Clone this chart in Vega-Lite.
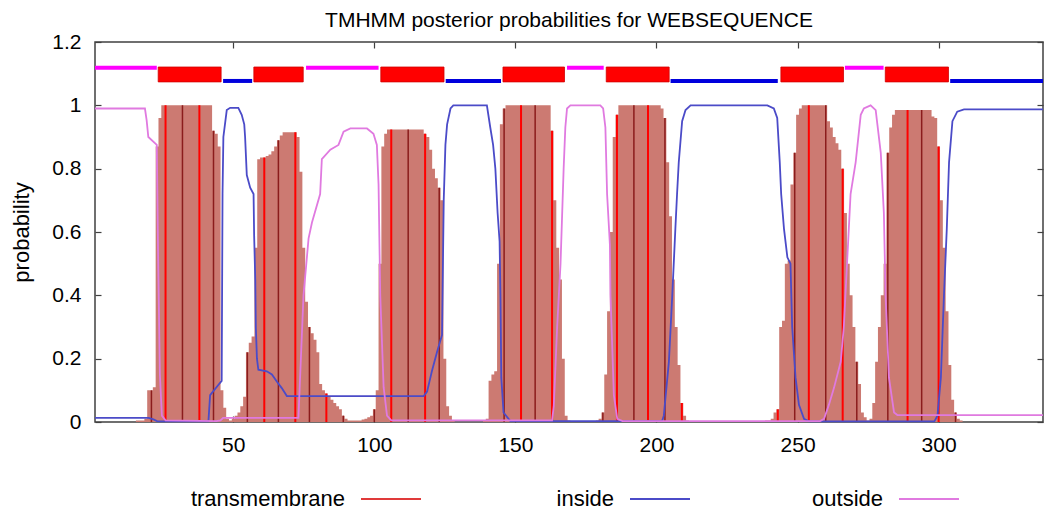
{
"$schema": "https://vega.github.io/schema/vega-lite/v6.json",
"width": 948, "height": 380,
"autosize": {"type": "none"},
"padding": {"left": 95, "top": 42, "right": 7, "bottom": 86},
"background": "white",
"title": {"text": "TMHMM posterior probabilities for WEBSEQUENCE", "fontSize": 21, "font": "Liberation Sans", "fontWeight": "normal", "color": "#000", "offset": 0, "frame": "group", "anchor": "middle"},
"config": {
  "view": {"stroke": "#404040", "strokeWidth": 1.5},
  "axis": {"grid": false, "domain": false, "labelFont": "Liberation Sans", "labelFontSize": 21, "labelColor": "#000", "tickColor": "#404040", "tickSize": -6, "tickWidth": 1.2, "titleFont": "Liberation Sans", "titleFontWeight": "normal", "titleColor": "#000", "titleFontSize": 22}
},
"datasets": {
"tm": [
{"pos":1,"p":0},{"pos":15,"p":0},{"pos":16,"p":0.005},{"pos":17,"p":0.005},{"pos":18,"p":0.005},{"pos":19,"p":0.01},{"pos":20,"p":0.10},{"pos":21,"p":0.10},{"pos":22,"p":0.11},{"pos":23,"p":0.87},{"pos":24,"p":0.96},
{"pos":25,"p":1},{"pos":26,"p":1},{"pos":27,"p":1},{"pos":28,"p":1},{"pos":29,"p":1},{"pos":30,"p":1},{"pos":31,"p":1},{"pos":32,"p":1},{"pos":33,"p":1},{"pos":34,"p":1},{"pos":35,"p":1},{"pos":36,"p":1},{"pos":37,"p":1},{"pos":38,"p":1},{"pos":39,"p":1},{"pos":40,"p":1},{"pos":41,"p":1},{"pos":42,"p":1},
{"pos":43,"p":0.92},{"pos":44,"p":0.91},{"pos":45,"p":0.87},{"pos":46,"p":0.10},{"pos":47,"p":0.045},{"pos":48,"p":0.01},{"pos":49,"p":0.005},{"pos":50,"p":0.01},{"pos":51,"p":0.02},{"pos":52,"p":0.03},{"pos":53,"p":0.05},{"pos":54,"p":0.08},{"pos":55,"p":0.22},{"pos":56,"p":0.25},{"pos":57,"p":0.27},{"pos":58,"p":0.55},{"pos":59,"p":0.83},{"pos":60,"p":0.835},{"pos":61,"p":0.835},{"pos":62,"p":0.84},{"pos":63,"p":0.845},{"pos":64,"p":0.855},{"pos":65,"p":0.87},{"pos":66,"p":0.89},{"pos":67,"p":0.905},{"pos":68,"p":0.915},{"pos":69,"p":0.915},{"pos":70,"p":0.915},{"pos":71,"p":0.915},{"pos":72,"p":0.915},{"pos":73,"p":0.90},{"pos":74,"p":0.79},{"pos":75,"p":0.55},{"pos":76,"p":0.38},{"pos":77,"p":0.30},{"pos":78,"p":0.28},{"pos":79,"p":0.26},{"pos":80,"p":0.22},{"pos":81,"p":0.12},{"pos":82,"p":0.10},{"pos":83,"p":0.09},{"pos":84,"p":0.08},{"pos":85,"p":0.07},{"pos":86,"p":0.06},{"pos":87,"p":0.05},{"pos":88,"p":0.04},{"pos":89,"p":0.02},{"pos":90,"p":0.01},{"pos":91,"p":0.005},{"pos":92,"p":0.005},{"pos":93,"p":0.005},{"pos":94,"p":0.005},{"pos":95,"p":0.005},{"pos":96,"p":0.008},{"pos":97,"p":0.01},{"pos":98,"p":0.015},{"pos":99,"p":0.02},{"pos":100,"p":0.04},{"pos":101,"p":0.10},{"pos":102,"p":0.50},{"pos":103,"p":0.87},{"pos":104,"p":0.91},
{"pos":105,"p":0.924},{"pos":106,"p":0.924},{"pos":107,"p":0.924},{"pos":108,"p":0.924},{"pos":109,"p":0.924},{"pos":110,"p":0.924},{"pos":111,"p":0.924},{"pos":112,"p":0.924},{"pos":113,"p":0.924},{"pos":114,"p":0.924},{"pos":115,"p":0.924},{"pos":116,"p":0.924},{"pos":117,"p":0.924},
{"pos":118,"p":0.91},{"pos":119,"p":0.90},{"pos":120,"p":0.86},{"pos":121,"p":0.80},{"pos":122,"p":0.77},{"pos":123,"p":0.74},{"pos":124,"p":0.70},{"pos":125,"p":0.20},{"pos":126,"p":0.05},{"pos":127,"p":0.02},{"pos":128,"p":0.005},{"pos":129,"p":0},{"pos":138,"p":0},{"pos":139,"p":0.005},{"pos":140,"p":0.01},{"pos":141,"p":0.13},{"pos":142,"p":0.15},{"pos":143,"p":0.16},{"pos":144,"p":0.50},{"pos":145,"p":0.94},{"pos":146,"p":0.99},
{"pos":147,"p":1},{"pos":148,"p":1},{"pos":149,"p":1},{"pos":150,"p":1},{"pos":151,"p":1},{"pos":152,"p":1},{"pos":153,"p":1},{"pos":154,"p":1},{"pos":155,"p":1},{"pos":156,"p":1},{"pos":157,"p":1},{"pos":158,"p":1},{"pos":159,"p":1},{"pos":160,"p":1},{"pos":161,"p":1},{"pos":162,"p":1},
{"pos":163,"p":0.92},{"pos":164,"p":0.70},{"pos":165,"p":0.55},{"pos":166,"p":0.45},{"pos":167,"p":0.20},{"pos":168,"p":0.02},{"pos":169,"p":0.005},{"pos":170,"p":0},{"pos":178,"p":0},{"pos":179,"p":0.005},{"pos":180,"p":0.01},{"pos":181,"p":0.03},{"pos":182,"p":0.15},{"pos":183,"p":0.35},{"pos":184,"p":0.60},{"pos":185,"p":0.90},{"pos":186,"p":0.97},
{"pos":187,"p":1},{"pos":188,"p":1},{"pos":189,"p":1},{"pos":190,"p":1},{"pos":191,"p":1},{"pos":192,"p":1},{"pos":193,"p":1},{"pos":194,"p":1},{"pos":195,"p":1},{"pos":196,"p":1},{"pos":197,"p":1},{"pos":198,"p":1},{"pos":199,"p":1},{"pos":200,"p":1},{"pos":201,"p":1},
{"pos":202,"p":0.99},{"pos":203,"p":0.96},{"pos":204,"p":0.82},{"pos":205,"p":0.65},{"pos":206,"p":0.45},{"pos":207,"p":0.30},{"pos":208,"p":0.18},{"pos":209,"p":0.06},{"pos":210,"p":0.02},{"pos":211,"p":0.005},{"pos":212,"p":0},{"pos":238,"p":0},{"pos":239,"p":0.005},{"pos":240,"p":0.005},{"pos":241,"p":0.01},{"pos":242,"p":0.03},{"pos":243,"p":0.04},{"pos":244,"p":0.30},{"pos":245,"p":0.32},{"pos":246,"p":0.50},{"pos":247,"p":0.51},{"pos":248,"p":0.75},{"pos":249,"p":0.85},{"pos":250,"p":0.97},{"pos":251,"p":0.99},
{"pos":252,"p":1},{"pos":253,"p":1},{"pos":254,"p":1},{"pos":255,"p":1},{"pos":256,"p":1},{"pos":257,"p":1},{"pos":258,"p":1},{"pos":259,"p":1},{"pos":260,"p":1},
{"pos":261,"p":0.95},{"pos":262,"p":0.93},{"pos":263,"p":0.90},{"pos":264,"p":0.88},{"pos":265,"p":0.86},{"pos":266,"p":0.80},{"pos":267,"p":0.66},{"pos":268,"p":0.50},{"pos":269,"p":0.40},{"pos":270,"p":0.30},{"pos":271,"p":0.19},{"pos":272,"p":0.12},{"pos":273,"p":0.03},{"pos":274,"p":0.015},{"pos":275,"p":0.005},{"pos":276,"p":0.01},{"pos":277,"p":0.06},{"pos":278,"p":0.19},{"pos":279,"p":0.30},{"pos":280,"p":0.40},{"pos":281,"p":0.50},{"pos":282,"p":0.85},{"pos":283,"p":0.93},{"pos":284,"p":0.97},
{"pos":285,"p":0.985},{"pos":286,"p":0.985},{"pos":287,"p":0.985},{"pos":288,"p":0.985},{"pos":289,"p":0.985},{"pos":290,"p":0.985},{"pos":291,"p":0.985},{"pos":292,"p":0.985},{"pos":293,"p":0.985},{"pos":294,"p":0.985},{"pos":295,"p":0.985},{"pos":296,"p":0.985},{"pos":297,"p":0.985},
{"pos":298,"p":0.965},{"pos":299,"p":0.96},{"pos":300,"p":0.87},{"pos":301,"p":0.70},{"pos":302,"p":0.55},{"pos":303,"p":0.35},{"pos":304,"p":0.18},{"pos":305,"p":0.07},{"pos":306,"p":0.03},{"pos":307,"p":0.01},{"pos":308,"p":0.005},{"pos":309,"p":0},{"pos":337,"p":0}
],
"curves": [
{"pos":1,"series":"inside","p":0.013},{"pos":20,"series":"inside","p":0.013},{"pos":21.7,"series":"inside","p":0.008},{"pos":23,"series":"inside","p":0.003},{"pos":24,"series":"inside","p":0.002},{"pos":41.2,"series":"inside","p":0.002},{"pos":41.8,"series":"inside","p":0.085},{"pos":44.7,"series":"inside","p":0.117},{"pos":45.9,"series":"inside","p":0.13},{"pos":46.2,"series":"inside","p":0.72},{"pos":46.5,"series":"inside","p":0.90},{"pos":47.7,"series":"inside","p":0.985},{"pos":48.9,"series":"inside","p":0.992},{"pos":51.8,"series":"inside","p":0.992},{"pos":53,"series":"inside","p":0.97},{"pos":53.9,"series":"inside","p":0.94},{"pos":54.2,"series":"inside","p":0.90},{"pos":54.8,"series":"inside","p":0.78},{"pos":56,"series":"inside","p":0.74},{"pos":57.2,"series":"inside","p":0.72},{"pos":57.4,"series":"inside","p":0.59},{"pos":57.8,"series":"inside","p":0.45},{"pos":58,"series":"inside","p":0.30},{"pos":58.4,"series":"inside","p":0.20},{"pos":58.9,"series":"inside","p":0.165},{"pos":61.9,"series":"inside","p":0.16},{"pos":63.7,"series":"inside","p":0.15},{"pos":65.5,"series":"inside","p":0.127},{"pos":67.2,"series":"inside","p":0.107},{"pos":69,"series":"inside","p":0.082},{"pos":117.5,"series":"inside","p":0.082},{"pos":118.7,"series":"inside","p":0.096},{"pos":120.4,"series":"inside","p":0.16},{"pos":122.2,"series":"inside","p":0.22},{"pos":124,"series":"inside","p":0.275},{"pos":124.6,"series":"inside","p":0.70},{"pos":125.2,"series":"inside","p":0.875},{"pos":125.8,"series":"inside","p":0.94},{"pos":127,"series":"inside","p":0.99},{"pos":128,"series":"inside","p":1.0},{"pos":139.9,"series":"inside","p":1.0},{"pos":141.1,"series":"inside","p":0.93},{"pos":142.1,"series":"inside","p":0.875},{"pos":142.9,"series":"inside","p":0.80},{"pos":143.7,"series":"inside","p":0.66},{"pos":144.4,"series":"inside","p":0.57},{"pos":144.7,"series":"inside","p":0.40},{"pos":145,"series":"inside","p":0.14},{"pos":145.8,"series":"inside","p":0.03},{"pos":148.2,"series":"inside","p":0.003},{"pos":202,"series":"inside","p":0.003},{"pos":202.6,"series":"inside","p":0.02},{"pos":204.4,"series":"inside","p":0.19},{"pos":205.6,"series":"inside","p":0.40},{"pos":206.7,"series":"inside","p":0.61},{"pos":207.3,"series":"inside","p":0.72},{"pos":207.9,"series":"inside","p":0.82},{"pos":209.1,"series":"inside","p":0.95},{"pos":210.3,"series":"inside","p":0.985},{"pos":212.1,"series":"inside","p":1.0},{"pos":239.3,"series":"inside","p":1.0},{"pos":241.6,"series":"inside","p":0.99},{"pos":242.8,"series":"inside","p":0.96},{"pos":243.7,"series":"inside","p":0.82},{"pos":244.2,"series":"inside","p":0.72},{"pos":245.2,"series":"inside","p":0.61},{"pos":246.4,"series":"inside","p":0.52},{"pos":247.5,"series":"inside","p":0.50},{"pos":248.1,"series":"inside","p":0.30},{"pos":249.3,"series":"inside","p":0.14},{"pos":250.5,"series":"inside","p":0.054},{"pos":252.3,"series":"inside","p":0.01},{"pos":254,"series":"inside","p":0.002},{"pos":298.5,"series":"inside","p":0.002},{"pos":299.6,"series":"inside","p":0.02},{"pos":300.8,"series":"inside","p":0.14},{"pos":301.9,"series":"inside","p":0.40},{"pos":302.9,"series":"inside","p":0.61},{"pos":303.7,"series":"inside","p":0.82},{"pos":304.9,"series":"inside","p":0.95},{"pos":306.6,"series":"inside","p":0.98},{"pos":309,"series":"inside","p":0.987},{"pos":337,"series":"inside","p":0.987},
{"pos":1,"series":"outside","p":0.99},{"pos":18.7,"series":"outside","p":0.99},{"pos":19.3,"series":"outside","p":0.953},{"pos":19.9,"series":"outside","p":0.90},{"pos":22.9,"series":"outside","p":0.875},{"pos":23.4,"series":"outside","p":0.5},{"pos":24,"series":"outside","p":0.15},{"pos":24.7,"series":"outside","p":0.02},{"pos":26,"series":"outside","p":0.005},{"pos":44,"series":"outside","p":0.003},{"pos":45.5,"series":"outside","p":0.005},{"pos":46.4,"series":"outside","p":0.013},{"pos":73.1,"series":"outside","p":0.013},{"pos":74.9,"series":"outside","p":0.40},{"pos":76.7,"series":"outside","p":0.58},{"pos":77.9,"series":"outside","p":0.63},{"pos":80.8,"series":"outside","p":0.72},{"pos":81.4,"series":"outside","p":0.83},{"pos":84.4,"series":"outside","p":0.86},{"pos":87.3,"series":"outside","p":0.875},{"pos":89.1,"series":"outside","p":0.917},{"pos":91.5,"series":"outside","p":0.927},{"pos":97.4,"series":"outside","p":0.927},{"pos":99.7,"series":"outside","p":0.91},{"pos":100.9,"series":"outside","p":0.875},{"pos":101.5,"series":"outside","p":0.75},{"pos":102.1,"series":"outside","p":0.40},{"pos":103.3,"series":"outside","p":0.11},{"pos":104.5,"series":"outside","p":0.02},{"pos":106,"series":"outside","p":0.005},{"pos":163,"series":"outside","p":0.005},{"pos":163.6,"series":"outside","p":0.05},{"pos":164.8,"series":"outside","p":0.30},{"pos":166,"series":"outside","p":0.50},{"pos":167.1,"series":"outside","p":0.80},{"pos":167.7,"series":"outside","p":0.93},{"pos":168.3,"series":"outside","p":0.99},{"pos":169.5,"series":"outside","p":1.0},{"pos":180.1,"series":"outside","p":1.0},{"pos":181.1,"series":"outside","p":0.99},{"pos":181.9,"series":"outside","p":0.93},{"pos":182.5,"series":"outside","p":0.72},{"pos":183.5,"series":"outside","p":0.56},{"pos":183.7,"series":"outside","p":0.40},{"pos":184.9,"series":"outside","p":0.085},{"pos":186.1,"series":"outside","p":0.01},{"pos":188,"series":"outside","p":0.003},{"pos":258,"series":"outside","p":0.003},{"pos":259.4,"series":"outside","p":0.01},{"pos":261.1,"series":"outside","p":0.054},{"pos":262.9,"series":"outside","p":0.107},{"pos":265.3,"series":"outside","p":0.19},{"pos":266.4,"series":"outside","p":0.30},{"pos":267.6,"series":"outside","p":0.51},{"pos":268.8,"series":"outside","p":0.72},{"pos":270.6,"series":"outside","p":0.82},{"pos":272.4,"series":"outside","p":0.97},{"pos":273.5,"series":"outside","p":0.99},{"pos":275.9,"series":"outside","p":1.0},{"pos":277.7,"series":"outside","p":0.985},{"pos":279.5,"series":"outside","p":0.85},{"pos":280.6,"series":"outside","p":0.66},{"pos":281.2,"series":"outside","p":0.40},{"pos":282.4,"series":"outside","p":0.14},{"pos":284.2,"series":"outside","p":0.03},{"pos":285.4,"series":"outside","p":0.022},{"pos":337,"series":"outside","p":0.022}
],
"topo": [
{"start":1,"end":22.9,"region":"outside"},
{"start":23.4,"end":45.7,"region":"TM"},
{"start":46.4,"end":56.7,"region":"inside"},
{"start":57.3,"end":74.8,"region":"TM"},
{"start":75.8,"end":101.5,"region":"outside"},
{"start":102.3,"end":124.7,"region":"TM"},
{"start":125.3,"end":144.9,"region":"inside"},
{"start":145.6,"end":167.4,"region":"TM"},
{"start":168.3,"end":181.3,"region":"outside"},
{"start":182.2,"end":204.5,"region":"TM"},
{"start":205,"end":243,"region":"inside"},
{"start":244.1,"end":266.3,"region":"TM"},
{"start":266.8,"end":280.5,"region":"outside"},
{"start":281.1,"end":303.5,"region":"TM"},
{"start":304.1,"end":337,"region":"inside"}
]
},
"layer": [
{
  "data": {"name": "tm"},
  "mark": {"type": "area", "interpolate": "step", "color": "#cc7a72"},
  "encoding": {
    "x": {"field": "pos", "type": "quantitative", "scale": {"domain": [1, 337], "nice": false, "zero": false}, "axis": {"orient": "bottom", "values": [50,100,150,200,250,300], "title": null, "labelPadding": 18}},
    "y": {"field": "p", "type": "quantitative", "scale": {"domain": [0, 1.2], "nice": false}, "axis": {"orient": "left", "values": [0,0.2,0.4,0.6,0.8,1,1.2], "format": "~g", "title": "probability", "labelPadding": 20, "titlePadding": 18}}
  }
},
{
  "data": {"name": "tm"},
  "transform": [{"filter": {"field": "pos", "oneOf": [26,38,61,72,83,106,118,152,163,186,197,209,243,254,266,289,300]}}],
  "mark": {"type": "rule", "color": "#ff0000", "strokeWidth": 2},
  "encoding": {
    "x": {"field": "pos", "type": "quantitative", "axis": {"orient": "top", "values": [50,100,150,200,250,300], "labels": false, "title": null}},
    "y": {"field": "p", "type": "quantitative", "axis": {"orient": "right", "values": [0,0.2,0.4,0.6,0.8,1,1.2], "labels": false, "title": null}},
    "y2": {"datum": 0}
  }
},
{
  "data": {"name": "tm"},
  "transform": [{"filter": {"field": "pos", "oneOf": [21,32,43,55,66,77,89,100,112,123,146,157,181,192,203,249,260,271,282,294,306]}}],
  "mark": {"type": "rule", "color": "#8b1c1c", "strokeWidth": 1.5},
  "encoding": {
    "x": {"field": "pos", "type": "quantitative", "axis": null},
    "y": {"field": "p", "type": "quantitative", "axis": null},
    "y2": {"datum": 0}
  }
},
{
  "data": {"name": "curves"},
  "mark": {"type": "line", "strokeWidth": 1.8},
  "encoding": {
    "x": {"field": "pos", "type": "quantitative", "axis": null},
    "y": {"field": "p", "type": "quantitative", "axis": null},
    "color": {"field": "series", "type": "nominal",
      "scale": {"domain": ["transmembrane", "inside", "outside"], "range": ["#e03a3a", "#4b4bc8", "#e07ae0"]},
      "legend": {"title": null, "orient": "none", "legendX": 88, "legendY": 426, "direction": "horizontal", "symbolType": "stroke", "symbolSize": 3600, "symbolStrokeWidth": 2, "symbolOffset": 177, "labelFont": "Liberation Sans", "labelFontSize": 22, "labelColor": "#000", "labelAlign": "right", "labelOffset": -77, "columnPadding": 27, "labelLimit": 400,
        "encode": {"entries": {"update": {"width": {"value": 237}}}}}}
  }
},
{
  "data": {"name": "topo"},
  "transform": [{"filter": "datum.region === 'TM'"}],
  "mark": {"type": "rect", "color": "#ff0000", "stroke": "#d00000", "strokeWidth": 0.8},
  "encoding": {
    "x": {"field": "start", "type": "quantitative", "axis": null},
    "x2": {"field": "end"},
    "y": {"datum": 1.121, "axis": null},
    "y2": {"datum": 1.074}
  }
},
{
  "data": {"name": "topo"},
  "transform": [{"filter": "datum.region === 'outside'"}],
  "mark": {"type": "rule", "color": "#ff00ff", "strokeWidth": 4},
  "encoding": {
    "x": {"field": "start", "type": "quantitative", "axis": null},
    "x2": {"field": "end"},
    "y": {"datum": 1.119, "axis": null}
  }
},
{
  "data": {"name": "topo"},
  "transform": [{"filter": "datum.region === 'inside'"}],
  "mark": {"type": "rule", "color": "#0000dd", "strokeWidth": 4},
  "encoding": {
    "x": {"field": "start", "type": "quantitative", "axis": null},
    "x2": {"field": "end"},
    "y": {"datum": 1.077, "axis": null}
  }
}
],
"resolve": {"axis": {"x": "independent", "y": "independent"}}
}
